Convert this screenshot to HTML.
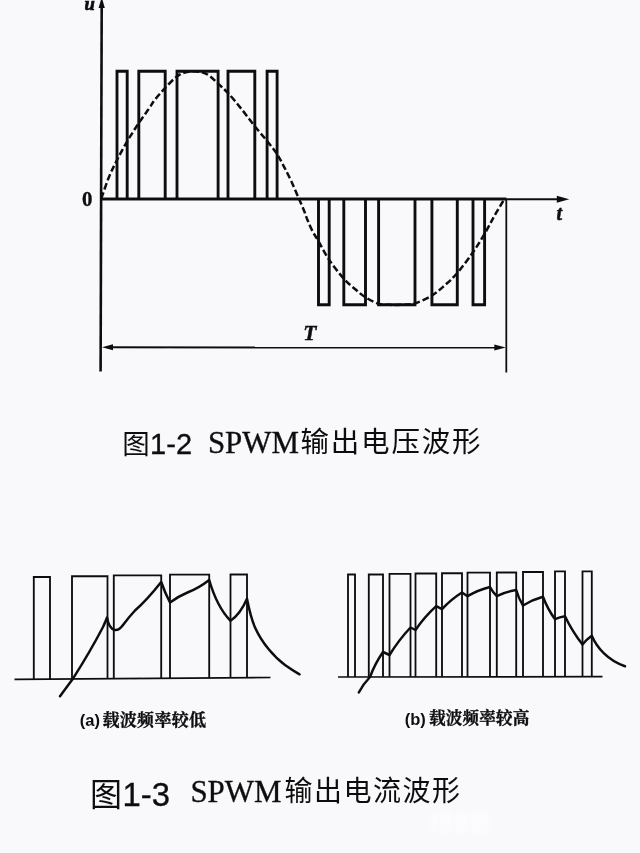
<!DOCTYPE html>
<html lang="zh-CN">
<head>
<meta charset="utf-8">
<title>SPWM 输出电压与电流波形</title>
<style>
html,body{margin:0;padding:0;background:#f9f8fb;}
body{width:640px;height:853px;overflow:hidden;font-family:"Liberation Sans",sans-serif;}
svg{display:block;}
</style>
</head>
<body>
<svg width="640" height="853" viewBox="0 0 640 853">
<defs>
<filter id="soft" x="-2%" y="-2%" width="104%" height="104%"><feGaussianBlur stdDeviation="0.45"/></filter>
<filter id="wm" x="-20%" y="-40%" width="140%" height="180%"><feGaussianBlur stdDeviation="1.6"/></filter>
</defs>
<rect width="640" height="853" fill="#f9f8fb"/>
<g id="watermark" fill="#ffffff" opacity="0.55" filter="url(#wm)">
<rect x="432" y="814" width="5" height="17"/><rect x="440" y="812" width="12" height="20"/>
<rect x="455" y="813" width="13" height="19"/><rect x="471" y="812" width="17" height="20"/>
</g>
<g id="ink" filter="url(#soft)">
<g id="fig12" fill="none" stroke="#111" stroke-linejoin="miter">
<line x1="101.7" y1="4" x2="100.6" y2="371.5" stroke-width="2.6"/>
<line x1="101.0" y1="199.0" x2="506.3" y2="199.0" stroke-width="2.8"/>
<line x1="505.3" y1="199.2" x2="560" y2="199.3" stroke-width="2.1"/>
<line x1="506.3" y1="199.0" x2="506.3" y2="372.5" stroke-width="1.8"/>
<line x1="107.0" y1="347.3" x2="500.3" y2="347.6" stroke-width="2.0"/>
<path d="M117.0 199.0V71.2H127.2V199.0M138.8 199.0V71.2H165.2V199.0M177.0 199.0V71.2H218.1V199.0M228.0 199.0V71.2H254.8V199.0M267.1 199.0V71.2H277.1V199.0M318.5 199.0V304.8H329.2V199.0M343.8 199.0V304.8H365.5V199.0M378.6 199.0V304.8H415.0V199.0M431.9 199.0V304.8H457.3V199.0M473.0 199.0V304.8H484.6V199.0" stroke-width="2.9"/>
<path d="M101.3 198.4C102.6 194.8 106.4 183.4 109.0 177.0C111.6 170.6 114.0 165.9 117.0 160.0C120.0 154.1 123.6 147.5 127.2 141.3C130.8 135.2 135.2 128.5 138.8 123.1C142.4 117.7 146.1 112.7 148.8 108.8C151.5 104.9 152.3 103.0 155.0 99.6C157.7 96.2 161.3 92.1 165.0 88.2C168.7 84.3 173.3 79.1 177.0 76.4C180.7 73.7 184.0 72.8 187.0 72.0C190.0 71.2 192.3 71.2 195.0 71.3C197.7 71.4 200.5 71.8 203.0 72.6C205.5 73.4 207.5 74.3 210.0 76.2C212.5 78.1 215.1 80.9 218.1 83.7C221.1 86.5 224.2 88.9 228.1 93.1C232.0 97.3 236.9 103.3 241.3 108.8C245.8 114.3 250.5 120.9 254.8 126.3C259.1 131.7 263.6 136.7 267.3 141.3C271.0 145.9 274.1 149.6 276.9 153.8C279.6 158.0 281.4 161.7 283.8 166.3C286.2 170.9 288.8 175.9 291.3 181.3C293.8 186.7 296.7 193.7 298.8 198.5C300.9 203.3 302.4 206.4 303.8 210.0C305.2 213.6 306.1 216.5 307.5 220.0C308.9 223.5 310.7 227.8 312.5 231.2C314.3 234.6 315.4 235.9 318.1 240.6C320.9 245.3 324.7 253.3 329.0 259.6C333.3 266.0 339.5 273.8 343.8 278.7C348.1 283.6 351.4 285.9 355.0 289.0C358.6 292.1 361.7 294.9 365.6 297.4C369.5 299.8 374.4 302.5 378.5 303.7C382.6 304.9 386.1 304.6 390.0 304.8C393.9 305.0 397.8 305.1 402.0 304.8C406.2 304.5 410.1 304.7 415.1 303.2C420.1 301.7 426.9 298.7 431.8 295.7C436.7 292.7 440.4 289.2 444.7 285.4C448.9 281.6 452.6 278.5 457.3 273.0C462.0 267.5 468.2 259.0 472.8 252.5C477.4 246.0 481.1 239.7 484.6 233.8C488.1 227.9 490.9 222.1 493.8 216.9C496.8 211.7 500.5 205.5 502.3 202.5C504.1 199.5 504.0 199.6 504.4 199.0" stroke-width="2.5" stroke-dasharray="6.6 2.9"/>
</g>
<g id="arrows" fill="#111">
<path d="M101.7 -3 L104.8 8 L98.6 8Z"/>
<path d="M569.2 199.3 L556.8 195.8 L556.8 202.8Z"/>
<path d="M102.0 347.3 L113.0 344.3 L113.0 350.3Z"/>
<path d="M505.8 347.6 L494.3 344.6 L494.3 350.6Z"/>
</g>
<g id="labels" fill="#111" font-family="'Liberation Serif', serif" font-weight="bold">
<text x="84.6" y="9.7" font-size="18.6" font-style="italic" stroke="#111" stroke-width="0.7">u</text>
<text x="81.9" y="206.4" font-size="20.8" stroke="#111" stroke-width="0.35">0</text>
<text x="556.6" y="220.3" font-size="20" font-style="italic" stroke="#111" stroke-width="0.55">t</text>
<text x="303.3" y="339.6" font-size="21.5" font-style="italic" stroke="#111" stroke-width="0.45">T</text>
</g>
<text x="122.3" y="454.3" font-family="'Liberation Sans', 'Noto Sans CJK SC', sans-serif" font-size="27.5" fill="#111">图</text>
<text x="150.1" y="454.4" font-family="'Liberation Sans', sans-serif" font-size="29" fill="#111" stroke="#111" stroke-width="0.35">1-2</text>
<text x="207.9" y="452.6" font-family="'Liberation Serif', serif" font-size="30.9" fill="#111" stroke="#111" stroke-width="0.35">SPWM</text>
<text x="300.5" y="452.3" font-family="'Liberation Sans', 'Noto Sans CJK SC', sans-serif" font-size="28.5" letter-spacing="1.8" fill="#111">输出电压波形</text>
<g id="fig13a" fill="none" stroke="#111">
<line x1="14.5" y1="679.3" x2="270.5" y2="677.5" stroke-width="1.7"/>
<path d="M33.8 679.2V577.0H50.0V679.1M72.0 678.9V576.2H107.5V678.6M113.8 678.6V575.3H161.2V678.3M170.0 678.2V574.6H209.2V677.9M230.5 677.8V574.5H247.0V677.7" stroke-width="1.85"/>
<path d="M60 696.3 L72.5 679.3 Q90 652 103 627 Q106 620.5 107 617.5 Q109 629 115 630 Q119 630.5 123 625 Q129 617 135 610.5 Q147 600 161.2 582 Q165 593 170 602.5 Q179 596 187.5 592.5 Q199 588 209.2 580 Q217 607 230.5 620.8 Q240.5 614 247 598.8 Q250.5 617 255 627.5 C262 643 274 657 285 665 Q292 670 299.5 674.3" stroke-width="2.5" stroke-linejoin="round" stroke-linecap="round"/>
</g>
<text x="79.8" y="726.3" font-family="'Liberation Sans', sans-serif" font-weight="bold" font-size="16.5" fill="#111">(a)</text>
<text x="102.5" y="726" font-family="'Liberation Serif', 'Noto Serif CJK SC', serif" font-weight="bold" font-size="17" letter-spacing="0.3" fill="#111" stroke="#111" stroke-width="0.35">载波频率较低</text>
<g id="fig13b" fill="none" stroke="#111">
<line x1="338" y1="677.0" x2="602.5" y2="676.7" stroke-width="1.7"/>
<path d="M348.0 676.9V574.5H355.0V676.9M368.8 676.9V574.5H383.0V676.9M389.5 676.9V573.8H410.5V676.9M415.5 676.9V573.5H436.2V676.9M442.0 676.9V573.2H462.0V676.9M467.5 676.9V572.6H490.0V676.9M496.8 676.9V572.5H516.2V676.9M523.0 676.9V572.0H543.0V676.9M555.0 676.9V571.3H565.0V676.9M582.5 676.9V571.3H591.8V676.9" stroke-width="1.85"/>
<path d="M358.8 692.5Q363.3 683.9 370.0 677.0Q374.9 663.7 383.0 652.0L389.5 655.0Q398.6 640.2 410.5 627.5L415.5 630.0Q424.5 616.9 436.2 606.2L442.0 609.2Q450.8 599.5 462.0 592.5L467.5 596.2Q478.1 590.0 490.0 587.0Q492.7 592.1 496.8 596.2Q506.1 591.7 516.2 590.0Q518.5 598.2 523.0 605.5Q532.4 599.7 543.0 596.8Q547.4 608.8 555.0 619.2Q559.8 617.0 565.0 616.2Q572.2 631.3 582.5 644.5Q586.5 639.5 591.8 635.8 C597 648 608 660.5 625 666.3" stroke-width="2.5" stroke-linejoin="round" stroke-linecap="round"/>
</g>
<text x="404.8" y="724.6" font-family="'Liberation Sans', sans-serif" font-weight="bold" font-size="16.5" fill="#111">(b)</text>
<text x="429" y="724" font-family="'Liberation Serif', 'Noto Serif CJK SC', serif" font-weight="bold" font-size="16.6" letter-spacing="0.15" fill="#111" stroke="#111" stroke-width="0.35">载波频率较高</text>
<text x="89.9" y="805.9" font-family="'Liberation Sans', 'Noto Sans CJK SC', sans-serif" font-size="32" fill="#111">图</text>
<text x="122.6" y="805.5" font-family="'Liberation Sans', sans-serif" font-size="32.8" fill="#111" stroke="#111" stroke-width="0.35">1-3</text>
<text x="190.4" y="802.4" font-family="'Liberation Serif', serif" font-size="30.9" fill="#111" stroke="#111" stroke-width="0.35">SPWM</text>
<text x="284.5" y="801" font-family="'Liberation Sans', 'Noto Sans CJK SC', sans-serif" font-size="28" letter-spacing="1.5" fill="#111">输出电流波形</text>
</g>
</svg>
</body>
</html>
